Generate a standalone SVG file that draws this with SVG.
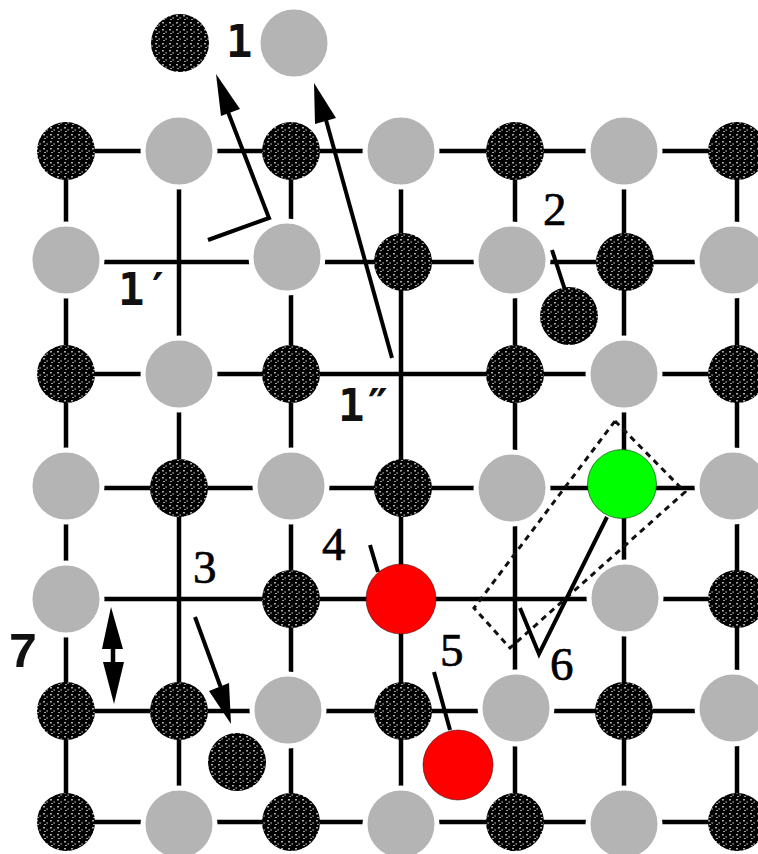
<svg xmlns="http://www.w3.org/2000/svg" width="758" height="854" viewBox="0 0 758 854">
<style>
.l{stroke:#000;stroke-width:4.5;fill:none}
.t{stroke:#000;stroke-width:4;fill:none}
.h{fill:#000;stroke:none}
.d{stroke:#111;stroke-width:3;fill:none;stroke-dasharray:6 5}
.g{fill:#b4b4b4;stroke:#fff;stroke-width:5}
.b{fill:url(#tex)}
.r{fill:#f00;stroke:#200;stroke-width:.5}
.m{font-family:"DejaVu Sans Mono","Liberation Mono",monospace;font-weight:bold;font-size:44px;fill:#111}
.q{font-family:"Liberation Mono","DejaVu Sans Mono",monospace;font-weight:bold;font-size:50px;fill:#111}
.s{font-family:"Liberation Serif","Times New Roman",serif;font-size:47px;fill:#000;stroke:#000;stroke-width:.7}
</style>
<defs>
<pattern id="tex" width="7" height="7" patternUnits="userSpaceOnUse">
<rect width="7" height="7" fill="#000"/>
<rect x="1" y="1" width="2" height="1.5" fill="#aaa"/>
<rect x="4.5" y="3" width="1.2" height="2" fill="#888"/>
<rect x="2" y="5" width="2" height="1" fill="#999"/>
</pattern>
</defs>
<rect width="758" height="854" fill="#fff"/>
<g id="connectors">
<path class="l" d="M66 151H758M66 262H758M66 374H758M66 488H758M66 599H758M66 711H758M66 822H758"/>
<path class="l" d="M66 151V822M179 151V822M291 151V822M401 151V822M515 151V822M624 151V822M737 151V822"/>
</g>
<g id="a11"><circle class="b" cx="66" cy="151" r="29"/></g>
<g id="a12"><circle class="g" cx="179" cy="151" r="36"/></g>
<g id="a13"><circle class="b" cx="291" cy="151" r="29"/></g>
<g id="a14"><circle class="g" cx="401" cy="151" r="36"/></g>
<g id="a15"><circle class="b" cx="515" cy="151" r="29"/></g>
<g id="a16"><circle class="g" cx="624" cy="151" r="36"/></g>
<g id="a17"><circle class="b" cx="737" cy="151" r="29"/></g>
<g id="a21"><circle class="g" cx="66" cy="260" r="36"/></g>
<g id="a23"><circle class="g" cx="287" cy="257" r="36"/></g>
<g id="a24"><circle class="b" cx="403" cy="262" r="29"/></g>
<g id="a25"><circle class="g" cx="512" cy="260" r="36"/></g>
<g id="a26"><circle class="b" cx="625" cy="262" r="29"/></g>
<g id="a27"><circle class="g" cx="733" cy="260" r="36"/></g>
<g id="a31"><circle class="b" cx="66" cy="374" r="29"/></g>
<g id="a32"><circle class="g" cx="179" cy="374" r="36"/></g>
<g id="a33"><circle class="b" cx="291" cy="374" r="29"/></g>
<g id="a35"><circle class="b" cx="515" cy="374" r="29"/></g>
<g id="a36"><circle class="g" cx="624" cy="374" r="36"/></g>
<g id="a37"><circle class="b" cx="737" cy="374" r="29"/></g>
<g id="a41"><circle class="g" cx="66" cy="486" r="36"/></g>
<g id="a42"><circle class="b" cx="179" cy="488" r="29"/></g>
<g id="a43"><circle class="g" cx="291" cy="486" r="36"/></g>
<g id="a44"><circle class="b" cx="403" cy="488" r="29"/></g>
<g id="a45"><circle class="g" cx="512" cy="488" r="36"/></g>
<g id="a47"><circle class="g" cx="733" cy="486" r="36"/></g>
<g id="a51"><circle class="g" cx="66" cy="599" r="36"/></g>
<g id="a53"><circle class="b" cx="291" cy="599" r="29"/></g>
<g id="a56"><circle class="g" cx="625" cy="598" r="36"/></g>
<g id="a57"><circle class="b" cx="737" cy="599" r="29"/></g>
<g id="a61"><circle class="b" cx="66" cy="711" r="29"/></g>
<g id="a62"><circle class="b" cx="179" cy="711" r="29"/></g>
<g id="a63"><circle class="g" cx="288" cy="710" r="36"/></g>
<g id="a64"><circle class="b" cx="403" cy="711" r="29"/></g>
<g id="a65"><circle class="g" cx="516" cy="708" r="36"/></g>
<g id="a66"><circle class="b" cx="624" cy="711" r="29"/></g>
<g id="a67"><circle class="g" cx="733" cy="708" r="36"/></g>
<g id="a71"><circle class="b" cx="66" cy="822" r="29"/></g>
<g id="a72"><circle class="g" cx="179" cy="824" r="36"/></g>
<g id="a73"><circle class="b" cx="291" cy="822" r="29"/></g>
<g id="a74"><circle class="g" cx="401" cy="824" r="36"/></g>
<g id="a75"><circle class="b" cx="515" cy="822" r="29"/></g>
<g id="a76"><circle class="g" cx="624" cy="824" r="36"/></g>
<g id="a77"><circle class="b" cx="737" cy="822" r="29"/></g>
<g id="top-black"><circle class="b" cx="180" cy="43" r="29"/></g>
<g id="top-grey"><circle class="g" cx="294" cy="43" r="36"/></g>
<g id="ad2"><circle class="b" cx="569" cy="316" r="29"/></g>
<g id="ad3"><circle class="b" cx="237" cy="762" r="29"/></g>
<g id="red4"><circle class="r" cx="401" cy="599" r="35"/></g>
<g id="red5"><circle class="r" cx="458" cy="765" r="35"/></g>
<g id="green"><circle cx="622" cy="484" r="34.5" fill="#0f0" stroke="#030" stroke-width=".6"/></g>
<g id="annotations">
<path class="d" d="M615 421L685 492L510 648L474 608Z"/>
<path class="t" d="M208 240L269 218L228 112"/><path class="h" d="M216 74L221 116L240 109Z"/>
<path class="t" d="M392 358L326 120"/><path class="h" d="M314 83L315 124L336 118Z"/>
<path class="t" d="M520 608L539 654L607 517"/>
<path class="t" d="M552 250L565 290"/>
<path class="t" d="M370 545L378 572"/>
<path class="t" d="M434 672L450 730"/>
<path class="t" d="M195 617L221 688"/><path class="h" d="M231 724L209 691L229 683Z"/>
<path class="l" d="M113 645V665"/><path class="h" d="M111 607L102 649H123Z"/><path class="h" d="M114 704L103 662H124Z"/>
</g>
<g id="labels">
<text class="m" x="226" y="57">1</text>
<text class="m" x="118" y="305">1′</text>
<text class="m" x="338" y="421">1″</text>
<text class="q" x="8" y="667">7</text>
<text class="s" x="543" y="225">2</text>
<text class="s" x="193" y="583">3</text>
<text class="s" x="322" y="560">4</text>
<text class="s" x="440" y="666">5</text>
<text class="s" x="550" y="680">6</text>
</g>
</svg>
